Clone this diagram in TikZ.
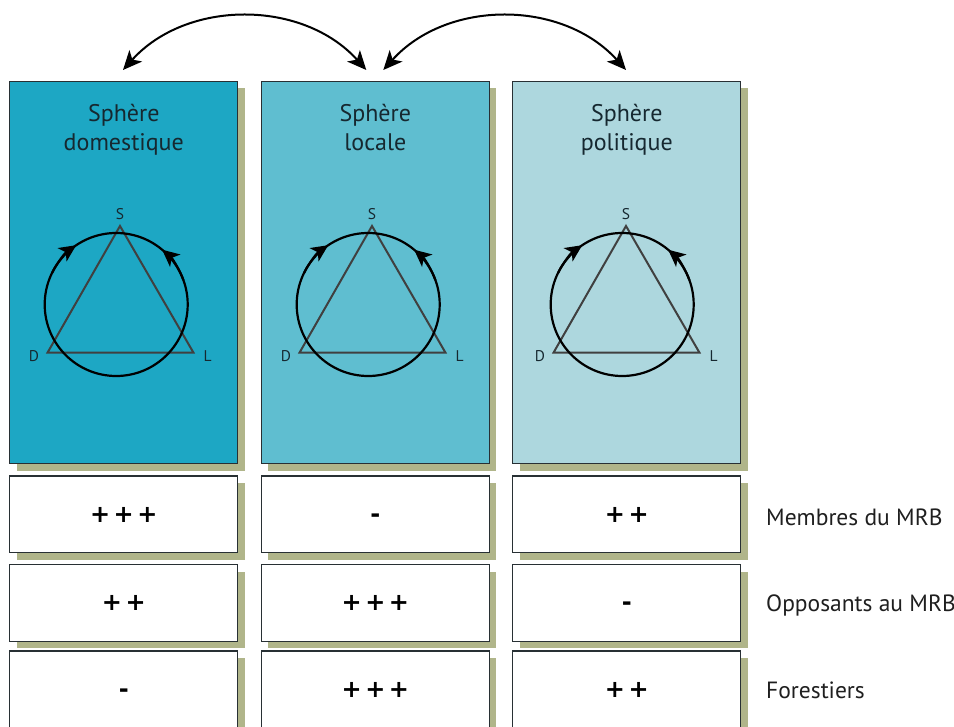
\documentclass[tikz,border=0pt]{standalone}
\usepackage{fontspec}
\setmainfont{PT Sans}
\newfontfamily\signfont{DejaVu Sans}
\usetikzlibrary{arrows.meta,shadows,calc}
\definecolor{cdom}{RGB}{29,167,196}
\definecolor{cloc}{RGB}{95,190,208}
\definecolor{cpol}{RGB}{173,215,222}
\definecolor{cshadow}{RGB}{176,181,138}
\definecolor{cborder}{RGB}{40,48,52}
\definecolor{ctext}{RGB}{22,40,48}
\definecolor{ctri}{RGB}{64,64,64}
\newcommand{\signsIII}{+\hspace{3.6pt}+\hspace{3.6pt}+}
\newcommand{\signsII}{+\hspace{3.6pt}+}
\newcommand{\signsI}{-}
\begin{document}
\begin{tikzpicture}[x=1pt,y=-1pt,
  boxshadow/.style={general shadow={fill=cshadow, shadow xshift=7pt, shadow yshift=-7pt}},
  sphbox/.style={draw=cborder, line width=1.3pt, boxshadow, minimum width=228pt, minimum height=382pt, anchor=north west, inner sep=0pt, outer sep=0pt},
  valbox/.style={draw=cborder, line width=1.3pt, fill=white, boxshadow, minimum width=228pt, minimum height=76.7pt, anchor=north west, inner sep=0pt, outer sep=0pt, font=\signfont\bfseries\fontsize{24}{24}\selectfont, text=black, text height=16pt, text depth=0pt},
  titletext/.style={font=\fontsize{24}{29}\selectfont, text=ctext, align=center, anchor=base, inner sep=0pt},
  vlabel/.style={font=\fontsize{15.5}{18}\selectfont, text=ctext, inner sep=0pt},
  rowlabel/.style={font=\fontsize{23.5}{26}\selectfont, text=black!88, anchor=base west, inner sep=0pt},
  tri/.style={draw=ctri, line width=2pt},
  circ/.style={draw=black, line width=2.2pt},
  circtip/.style={-{Stealth[length=17pt,width=16pt,inset=4.5pt]}},
  toparrow/.style={draw=black, line width=2pt, {Stealth[length=19pt,width=17pt,inset=5pt]}-{Stealth[length=19pt,width=17pt,inset=5pt]}}
]
\useasboundingbox (0,0) rectangle (954,727);
\foreach \i/\xl/\fx/\col/\ta/\tb in {1/9.8/120/cdom/Sphère/domestique, 2/261.3/372/cloc/Sphère/locale, 3/512.8/626/cpol/Sphère/politique} {
  \node[sphbox, fill=\col] (b\i) at (\xl,81.5) {};
  \node[titletext] (t\i) at ($(b\i.north)+(0,69.2)$) {\ta\\\tb};
  \coordinate (S\i) at (\fx,226);
  \coordinate (D\i) at (\fx-72.5,352.7);
  \coordinate (L\i) at (\fx+73.5,352.7);
  \draw[tri] (S\i) -- (D\i) -- (L\i) -- cycle;
  \coordinate (O\i) at (\fx-3.8,304.5);
  \draw[circ] (O\i) circle[radius=71.5];
  \draw[circ, circtip] (O\i) ++(-154:71.5) arc[start angle=-154, end angle=-124, radius=71.5];
  \draw[circ, circtip] (O\i) ++(-20:71.5) arc[start angle=-20, end angle=-50, radius=71.5];
  \node[vlabel, anchor=base] (s\i) at (\fx,220) {S};
  \node[vlabel, anchor=base east] (d\i) at (\fx-80.7,361.7) {D};
  \node[vlabel, anchor=base west] (l\i) at (\fx+83.3,361.7) {L};
}
% value boxes
\node[valbox] (v11) at (9.8,476) {\signsIII};
\node[valbox] (v12) at (261.3,476) {\signsI};
\node[valbox] (v13) at (512.8,476) {\signsII};
\node[valbox] (v21) at (9.8,564.5) {\signsII};
\node[valbox] (v22) at (261.3,564.5) {\signsIII};
\node[valbox] (v23) at (512.8,564.5) {\signsI};
\node[valbox] (v31) at (9.8,651) {\signsI};
\node[valbox] (v32) at (261.3,651) {\signsIII};
\node[valbox] (v33) at (512.8,651) {\signsII};
\node[rowlabel] (r1) at (766,525) {Membres du MRB};
\node[rowlabel] (r2) at (766,611.7) {Opposants au MRB};
\node[rowlabel] (r3) at (766,698.3) {Forestiers};
% top arrows
\coordinate (a1s) at ($(b1.north)+(-0.8,-11.5)$);
\coordinate (a1e) at ($(b2.north)+(-9,-11.5)$);
\coordinate (a2s) at ($(b2.north)+(8,-11.5)$);
\coordinate (a2e) at ($(b3.north)+(-0.8,-11.5)$);
\draw[toparrow] (a1s) .. controls +(63.6,-70.7) and +(-63.6,-70.7) .. (a1e);
\draw[toparrow] (a2s) .. controls +(63.6,-70.7) and +(-63.6,-70.7) .. (a2e);
\end{tikzpicture}
\end{document}
